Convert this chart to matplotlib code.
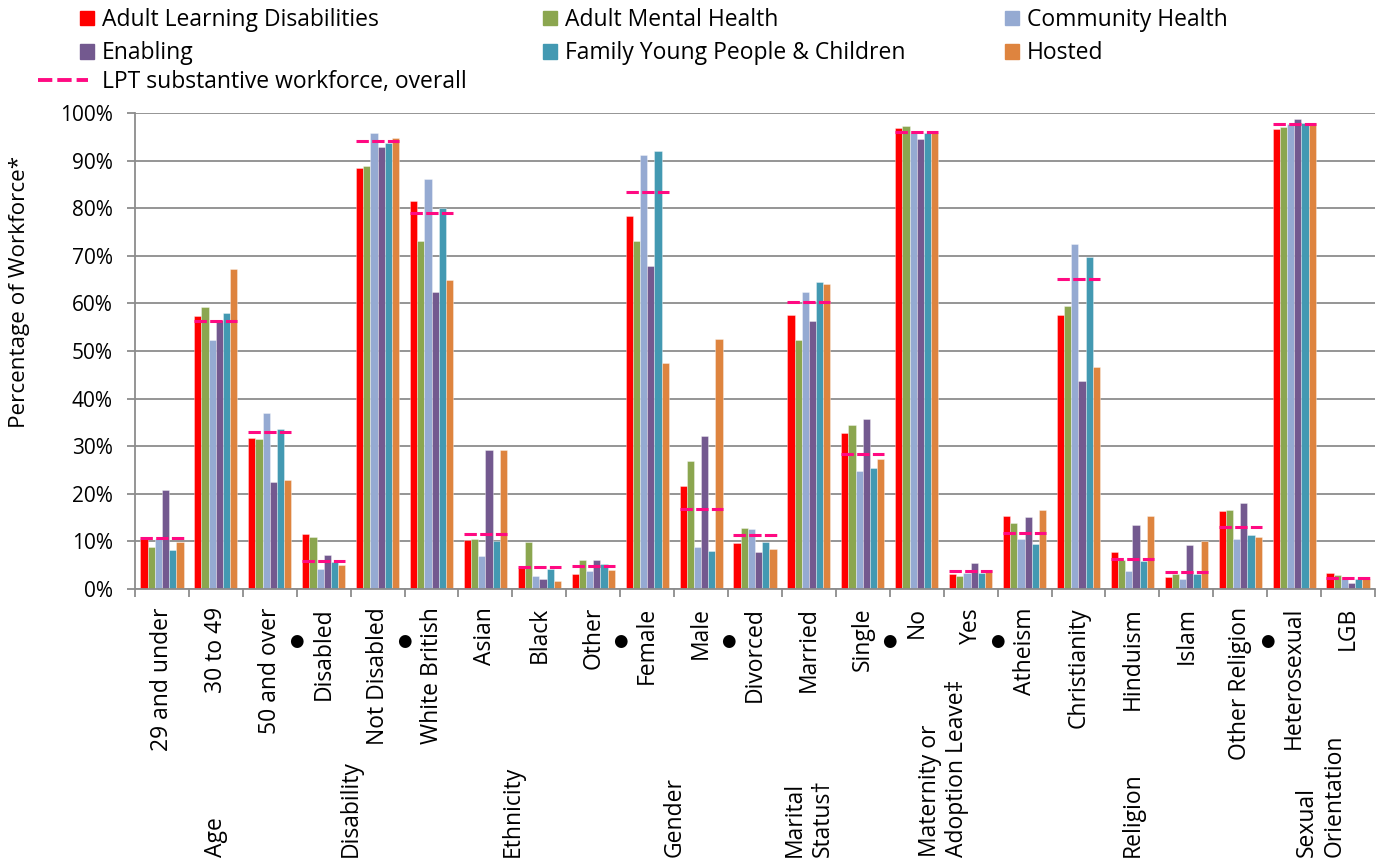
import matplotlib
matplotlib.use("Agg")
import matplotlib.pyplot as plt
import matplotlib.transforms as mtransforms
from matplotlib.patches import Patch
from matplotlib.lines import Line2D
import numpy as np

plt.rcParams["font.family"] = ["Open Sans", "DejaVu Sans"]
plt.rcParams["lines.scale_dashes"] = False

# ---- data (percent of workforce) ----
categories = ["29 and under", "30 to 49", "50 and over", "Disabled", "Not Disabled",
              "White British", "Asian", "Black", "Other", "Female", "Male",
              "Divorced", "Married", "Single", "No", "Yes", "Atheism",
              "Christianity", "Hinduism", "Islam", "Other Religion",
              "Heterosexual", "LGB"]

# group name, first index, last index
groups = [("Age", 0, 2), ("Disability", 3, 4), ("Ethnicity", 5, 8),
          ("Gender", 9, 10), ("Marital\nStatus†", 11, 13),
          ("Maternity or\nAdoption Leave‡", 14, 15), ("Religion", 16, 20),
          ("Sexual\nOrientation", 21, 22)]

series_names = ["Adult Learning Disabilities", "Adult Mental Health", "Community Health",
                "Enabling", "Family Young People & Children", "Hosted"]

ald = [10.5, 57.3, 31.8, 11.5, 88.5, 81.5, 10.3, 4.5, 3.1, 78.3, 21.6, 9.6, 57.5, 32.8,
       96.8, 3.2, 15.3, 57.5, 7.8, 2.5, 16.4, 96.6, 3.3]
amh = [8.9, 59.3, 31.6, 10.9, 88.9, 73.1, 10.6, 9.9, 6.1, 73.1, 26.9, 12.9, 52.4, 34.5,
       97.3, 2.7, 13.9, 59.5, 6.1, 3.2, 16.6, 97.1, 2.9]
community = [10.4, 52.3, 37.0, 4.3, 95.7, 86.1, 6.9, 2.8, 3.8, 91.1, 8.9, 12.6, 62.4, 24.8,
             95.9, 3.4, 10.5, 72.4, 3.8, 2.2, 10.6, 97.6, 2.0]
enabling = [20.8, 56.6, 22.5, 7.1, 92.9, 62.3, 29.1, 2.2, 6.1, 67.9, 32.1, 7.7, 56.3, 35.8,
            94.5, 5.5, 15.2, 43.8, 13.4, 9.2, 18.1, 98.7, 1.3]
fypc = [8.2, 58.0, 33.6, 5.6, 93.7, 80.1, 10.1, 4.1, 5.3, 92.0, 8.0, 9.9, 64.5, 25.4,
        95.9, 3.4, 9.5, 69.8, 5.9, 3.1, 11.4, 98.0, 2.0]
hosted = [9.9, 67.2, 22.9, 5.1, 94.8, 64.9, 29.2, 1.7, 4.0, 47.4, 52.6, 8.5, 64.0, 27.4,
          95.9, 4.0, 16.7, 46.7, 15.3, 10.1, 10.9, 98.0, 2.1]
overall = [10.7, 56.3, 32.9, 5.9, 94.1, 78.9, 11.5, 4.6, 4.8, 83.3, 16.8, 11.3, 60.3, 28.3,
           96.1, 3.8, 11.8, 65.1, 6.3, 3.6, 13.0, 97.6, 2.3]

series_values = [ald, amh, community, enabling, fypc, hosted]
colors = ["#FF0000", "#8BA64F", "#95AAD2", "#73598F", "#4399B2", "#DE843F"]
pink = "#FF0A82"
grey = "#8C8C8C"

W, H = 1378, 861
fig = plt.figure(figsize=(W / 100, H / 100), dpi=100)
ax = fig.add_axes([135 / W, 1 - 589 / H, (1375 - 135) / W, (589 - 113) / H])

x = np.arange(len(categories))
bar_w = 0.8 / len(series_values)
for j, (vals, col) in enumerate(zip(series_values, colors)):
    ax.bar(x - 0.4 + (j + 0.5) * bar_w, vals, bar_w, color=col,
           edgecolor=(1, 1, 1, 0.5), linewidth=0.5, zorder=2)

# overall workforce level drawn as a short dashed line over each group
for i, v in enumerate(overall):
    ax.plot([i - 0.4, i + 0.4], [v, v], color=pink, lw=2.2, dashes=(8.9, 2.4), zorder=3)

ax.set_xlim(-0.5, len(categories) - 0.5)
ax.set_ylim(0, 100)
ax.set_yticks(np.arange(0, 101, 10))
ax.set_yticklabels([f"{v}%" for v in range(0, 101, 10)], fontsize=15)
ax.yaxis.grid(True, color=grey, lw=1.3)
ax.set_axisbelow(True)
for s in ["top", "right"]:
    ax.spines[s].set_visible(False)
for s in ["left", "bottom"]:
    ax.spines[s].set_color(grey)
    ax.spines[s].set_linewidth(1.3)
ax.tick_params(axis="y", length=6, color=grey, width=1.3, pad=10)

ax.set_xticks(x)
ax.set_xticklabels(categories, rotation=90, fontsize=16.5)
ax.tick_params(axis="x", which="major", length=0, pad=13)
ax.set_xticks(np.arange(-0.5, len(categories), 1), minor=True)
ax.tick_params(axis="x", which="minor", length=6, color=grey, width=1.3)

# group labels and separators below the category labels
trans = mtransforms.blended_transform_factory(ax.transData, fig.transFigure)
for name, a, b in groups:
    ax.text((a + b) / 2, 1 - 857 / H, name, rotation=90, ha="center", va="bottom",
            multialignment="left", fontsize=16.5, transform=trans)
for name, a, b in groups[:-1]:
    ax.text(b + 0.5, 1 - 641 / H, "●", ha="center", va="center", fontsize=12,
            family="DejaVu Sans", transform=trans)

fig.text(20 / W, 1 - 292 / H, "Percentage of Workforce*", rotation=90,
         ha="center", va="center", fontsize=16.2)

# legend: three columns of bar series, then the dashed line on its own row
col_x = [80, 543, 1005]
for c in range(3):
    idx = [c, c + 3]
    fig.legend(handles=[Patch(color=colors[k]) for k in idx],
               labels=[series_names[k] for k in idx],
               loc="upper left", bbox_to_anchor=(col_x[c] / W, 1 - 8 / H),
               frameon=False, borderpad=0, borderaxespad=0, handlelength=0.62,
               handleheight=0.62, handletextpad=0.35, labelspacing=0.4, fontsize=16.5)
fig.legend(handles=[Line2D([], [], color=pink, lw=2.8, dashes=(10.3, 3.6))],
           labels=["LPT substantive workforce, overall"],
           loc="upper left", bbox_to_anchor=(38 / W, 1 - 70 / H),
           frameon=False, borderpad=0, borderaxespad=0, handlelength=2.2,
           handletextpad=0.6, fontsize=16.5)

fig.savefig("out.png", dpi=100)
